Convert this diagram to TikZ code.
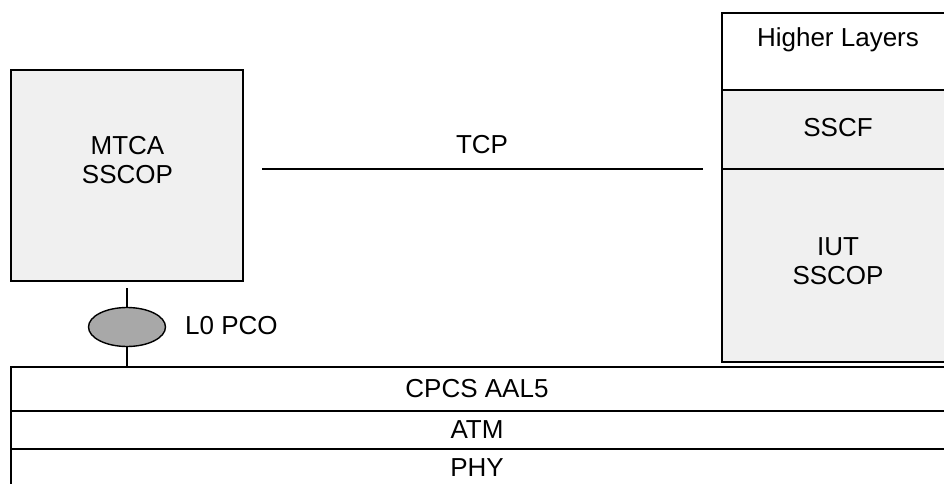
\documentclass[tikz,border=0pt]{standalone}
\usepackage{fontspec}
\setmainfont{Liberation Sans}
\usetikzlibrary{shapes.geometric}
\definecolor{boxgray}{HTML}{F0F0F0}
\definecolor{pcogray}{HTML}{A8A8A8}
\begin{document}
\begin{tikzpicture}[x=1pt,y=-1pt,
  lay/.style={draw=black,line width=1.4pt},
  lbl/.style={font=\fontsize{26}{29}\selectfont,align=center,inner sep=0pt,anchor=base},
  conn/.style={draw=black,line width=1.4pt}]
\useasboundingbox (0,0) rectangle (944,484);
\begin{scope}
\clip (0,0) rectangle (944,484);
% MTCA box
\draw[lay,fill=boxgray] (11,70) rectangle (243,281);
\node[lbl] (mtca) at (127.5,183) {MTCA\\SSCOP};
\coordinate (mtcab) at (127,288);
% right stack
\draw[lay,fill=white] (722,13) rectangle (960,90);
\draw[lay,fill=boxgray] (722,90) rectangle (960,169);
\draw[lay,fill=boxgray] (722,169) rectangle (960,362);
\node[lbl] (hl) at (838,47) {Higher Layers};
\node[lbl] (sscf) at (838,136) {SSCF};
\node[lbl] (iut) at (838,284) {IUT\\SSCOP};
% TCP
\coordinate (tcpl) at (262,169);
\coordinate (tcpr) at (703,169);
\draw[conn] (tcpl) -- (tcpr);
\node[lbl] (tcp) at (482,153) {TCP};
% bottom bars
\draw[lay,fill=white] (11,367) rectangle (960,411);
\draw[lay,fill=white] (11,411) rectangle (960,449);
\draw[lay,fill=white] (11,449) rectangle (960,500);
\node[lbl] (cpcs) at (477,397) {CPCS AAL5};
\node[lbl] (atm) at (477,438) {ATM};
\node[lbl] (phy) at (477,476) {PHY};
\coordinate (bart) at (127,367);
% PCO
\node[ellipse,draw=black,line width=1.4pt,fill=pcogray,minimum width=77pt,minimum height=39pt,inner sep=0pt] (pco) at (127,327) {};
\draw[conn] (mtcab) -- (pco.north);
\draw[conn] (pco.south) -- (bart);
\node[lbl,anchor=base west] (pcol) at (185,334) {L0 PCO};
\end{scope}
\end{tikzpicture}
\end{document}
